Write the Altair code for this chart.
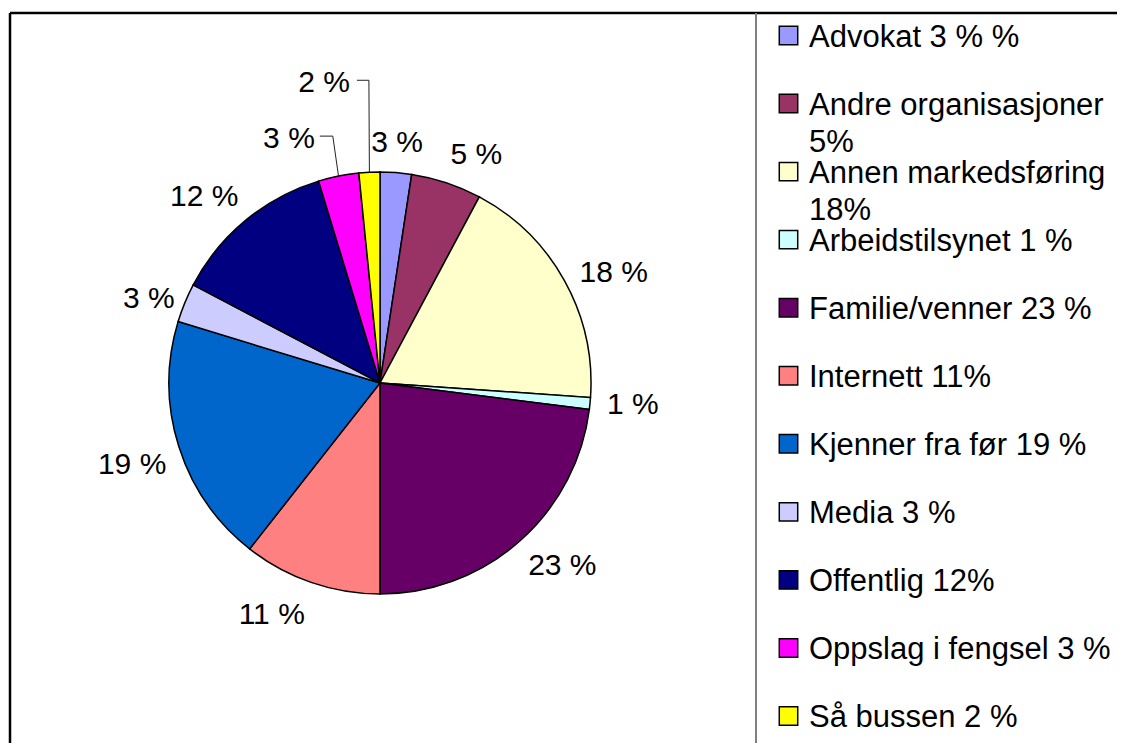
import altair as alt
import pandas as pd

# ---- data ----
cats = ["Advokat", "Andre organisasjoner", "Annen markedsføring", "Arbeidstilsynet",
        "Familie/venner", "Internett", "Kjenner fra før", "Media", "Offentlig",
        "Oppslag i fengsel", "Så bussen"]
values = [2.4, 5.4, 18.3, 0.9, 23.0, 10.6, 19.1, 3.0, 12.6, 3.1, 1.6]
slice_labels = ["3 %", "5 %", "18 %", "1 %", "23 %", "11 %", "19 %", "3 %", "12 %", "3 %", "2 %"]
legend_labels = ["Advokat 3 % %", "Andre organisasjoner\n5%", "Annen markedsføring\n18%",
                 "Arbeidstilsynet 1 %", "Familie/venner 23 %", "Internett 11%",
                 "Kjenner fra før 19 %", "Media 3 %", "Offentlig 12%",
                 "Oppslag i fengsel 3 %", "Så bussen 2 %"]
colors = ["#9999FF", "#993366", "#FFFFCC", "#CCFFFF", "#660066", "#FF8080",
          "#0066CC", "#CCCCFF", "#000080", "#FF00FF", "#FFFF00"]

df = pd.DataFrame({"idx": list(range(len(cats))), "cat": cats, "value": values,
                   "label": slice_labels, "leg": legend_labels})

W, H = 1109, 735
CX, CY, R = 372, 375, 211
FONT = "Liberation Sans"
FS = 30
LFS = 31

color_enc = alt.Color("cat:N", scale=alt.Scale(domain=cats, range=colors), legend=None)
base = alt.Chart(df)

pie = base.mark_arc(outerRadius=R, stroke="black", strokeWidth=1.5).encode(
    theta=alt.Theta("value:Q", stack=True),
    order=alt.Order("idx:Q"),
    color=color_enc,
    x=alt.value(CX), y=alt.value(CY),
)


def label_layer(group, align, baseline, radius):
    return base.mark_text(align=align, baseline=baseline, radius=radius,
                          fontSize=FS, font=FONT, color="black").encode(
        theta=alt.Theta("value:Q", stack=True),
        order=alt.Order("idx:Q"),
        text=alt.condition(alt.FieldOneOfPredicate(field="cat", oneOf=group),
                           alt.Text("label:N"), alt.value("")),
        x=alt.value(CX), y=alt.value(CY),
    )


labels = [
    label_layer(["Advokat"], "center", "bottom", 226),
    label_layer(["Andre organisasjoner"], "left", "bottom", 224),
    label_layer(["Annen markedsføring", "Arbeidstilsynet"], "left", "middle", 228),
    label_layer(["Familie/venner"], "left", "top", 224),
    label_layer(["Internett"], "right", "top", 230),
    label_layer(["Kjenner fra før"], "right", "top", 224),
    label_layer(["Media"], "right", "middle", 222),
    label_layer(["Offentlig"], "right", "bottom", 222),
]


def leader(cat, elbow_dx, elbow_dy, end_dx, text_dx, text_dy):
    b = (alt.Chart(df)
         .transform_window(cum="sum(value)", sort=[alt.SortField("idx")], frame=[None, 0])
         .transform_joinaggregate(total="sum(value)")
         .transform_calculate(a="2*PI*(datum.cum - datum.value/2)/datum.total")
         .transform_calculate(ex=f"{CX} + {R}*sin(datum.a)", ey=f"{CY} - {R}*cos(datum.a)")
         .transform_filter(alt.datum.cat == cat)
         .transform_calculate(x1=f"datum.ex + ({elbow_dx})", y1=f"datum.ey + ({elbow_dy})",
                              xe=f"datum.ex + ({end_dx})",
                              tx=f"datum.ex + ({text_dx})", ty=f"datum.ey + ({text_dy})"))
    seg1 = b.mark_rule(color="#222222", strokeWidth=1).encode(
        x=alt.X("ex:Q", scale=None, axis=None), y=alt.Y("ey:Q", scale=None, axis=None),
        x2="x1:Q", y2="y1:Q")
    seg2 = b.mark_rule(color="#222222", strokeWidth=1).encode(
        x=alt.X("x1:Q", scale=None, axis=None), x2="xe:Q",
        y=alt.Y("y1:Q", scale=None, axis=None))
    txt = b.mark_text(align="right", baseline="middle", fontSize=FS, font=FONT,
                      color="black").encode(
        x=alt.X("tx:Q", scale=None, axis=None), y=alt.Y("ty:Q", scale=None, axis=None),
        text="label:N")
    return [seg1, seg2, txt]


leaders = leader("Oppslag i fengsel", -5.7, -40, -18.7, -23.7, -37) + \
          leader("Så bussen", -0.5, -92, -12.5, -19.4, -89)

leg_y = alt.Y("cat:N", scale=alt.Scale(type="point", domain=cats, range=[27.5, 708], padding=0),
              axis=None)
leg_sq = base.mark_square(size=340, filled=True, stroke="black", strokeWidth=1.5,
                          opacity=1).encode(
    x=alt.value(780.5), y=leg_y, color=color_enc)
leg_txt = base.mark_text(align="left", baseline="top", dy=-13, lineBreak="\n",
                         lineHeight=37, fontSize=LFS, font=FONT, color="black").encode(
    x=alt.value(801), y=leg_y, text="leg:N")

frame_df = alt.Chart(pd.DataFrame({"k": [0]}))
top_line = frame_df.mark_rule(color="black", strokeWidth=2.5).encode(
    x=alt.value(2), x2=alt.value(W), y=alt.value(5))
left_line = frame_df.mark_rule(color="black", strokeWidth=2.5).encode(
    x=alt.value(2), y=alt.value(5), y2=alt.value(H))
sep_line = frame_df.mark_rule(color="#808080", strokeWidth=2).encode(
    x=alt.value(748), y=alt.value(5), y2=alt.value(H))

chart = alt.layer(
    top_line, left_line, sep_line, pie, *labels, *leaders, leg_sq, leg_txt
).resolve_scale(x="independent", y="independent").properties(
    width=W, height=H, padding=0, autosize=alt.AutoSizeParams(type="none")
).configure_view(stroke=None)

chart.save("out.html", embed_options={"renderer": "svg", "actions": False})
